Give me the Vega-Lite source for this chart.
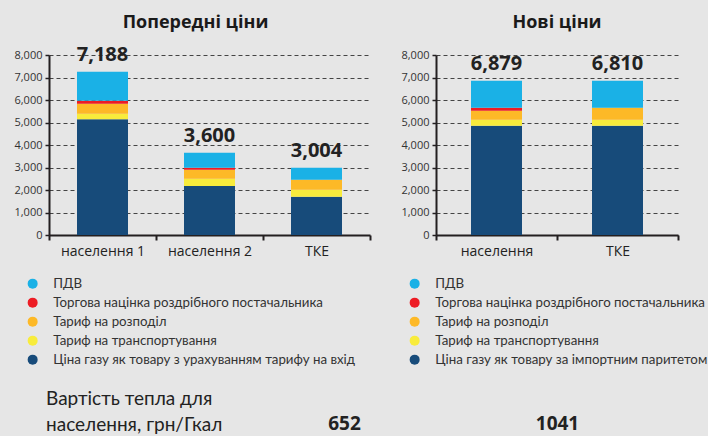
{
  "$schema": "https://vega.github.io/schema/vega-lite/v6.json",
  "background": "#e6e6e6",
  "padding": {"left": 13, "top": 13, "right": 0, "bottom": 0},
  "config": {
    "view": {"stroke": null},
    "font": "Open Sans",
    "title": {"fontSize": 18, "fontWeight": "bold", "color": "#1a1a1a", "offset": 12, "font": "Open Sans"},
    "axisX": {
      "title": null, "labelAngle": 0, "tickBand": "extent", "labelFontSize": 14, "labelColor": "#222",
      "domainColor": "#231f20", "domainWidth": 2, "tickColor": "#231f20", "tickSize": 5, "tickWidth": 2, "labelPadding": 4, "grid": false
    },
    "legend": {
      "orient": "none", "title": null, "symbolType": "circle", "symbolSize": 100, "symbolStrokeWidth": 0, "symbolOpacity": 1,
      "labelFont": "Lato", "labelFontSize": 13.3, "labelColor": "#333", "rowPadding": 5, "labelOffset": 14, "padding": 0, "labelLimit": 400
    }
  },
  "datasets": {
    "old": [
      {"cat": "населення 1", "comp": "Ціна газу як товару з урахуванням тарифу на вхід", "k": 1, "value": 5141},
      {"cat": "населення 1", "comp": "Тариф на транспортування", "k": 2, "value": 252},
      {"cat": "населення 1", "comp": "Тариф на розподіл", "k": 3, "value": 444},
      {"cat": "населення 1", "comp": "Торгова націнка роздрібного постачальника", "k": 4, "value": 133},
      {"cat": "населення 1", "comp": "ПДВ", "k": 5, "value": 1289},
      {"cat": "населення 2", "comp": "Ціна газу як товару з урахуванням тарифу на вхід", "k": 1, "value": 2180},
      {"cat": "населення 2", "comp": "Тариф на транспортування", "k": 2, "value": 322},
      {"cat": "населення 2", "comp": "Тариф на розподіл", "k": 3, "value": 400},
      {"cat": "населення 2", "comp": "Торгова націнка роздрібного постачальника", "k": 4, "value": 89},
      {"cat": "населення 2", "comp": "ПДВ", "k": 5, "value": 660},
      {"cat": "ТКЕ", "comp": "Ціна газу як товару з урахуванням тарифу на вхід", "k": 1, "value": 1704},
      {"cat": "ТКЕ", "comp": "Тариф на транспортування", "k": 2, "value": 311},
      {"cat": "ТКЕ", "comp": "Тариф на розподіл", "k": 3, "value": 444},
      {"cat": "ТКЕ", "comp": "ПДВ", "k": 5, "value": 534}
    ],
    "oldLabels": [
      {"cat": "населення 1", "label": "7,188"},
      {"cat": "населення 2", "label": "3,600"},
      {"cat": "ТКЕ", "label": "3,004"}
    ],
    "new": [
      {"cat": "населення", "comp": "Ціна газу як товару за імпортним паритетом", "k": 1, "value": 4859},
      {"cat": "населення", "comp": "Тариф на транспортування", "k": 2, "value": 267},
      {"cat": "населення", "comp": "Тариф на розподіл", "k": 3, "value": 400},
      {"cat": "населення", "comp": "Торгова націнка роздрібного постачальника", "k": 4, "value": 133},
      {"cat": "населення", "comp": "ПДВ", "k": 5, "value": 1200},
      {"cat": "ТКЕ", "comp": "Ціна газу як товару за імпортним паритетом", "k": 1, "value": 4859},
      {"cat": "ТКЕ", "comp": "Тариф на транспортування", "k": 2, "value": 267},
      {"cat": "ТКЕ", "comp": "Тариф на розподіл", "k": 3, "value": 533},
      {"cat": "ТКЕ", "comp": "ПДВ", "k": 5, "value": 1200}
    ],
    "newLabels": [
      {"cat": "населення", "label": "6,879"},
      {"cat": "ТКЕ", "label": "6,810"}
    ],
    "bottom": [
      {"col": "label", "text": "Вартість тепла для\nнаселення, грн/Гкал"},
      {"col": "old", "text": "652"},
      {"col": "new", "text": "1041"}
    ]
  },
  "vconcat": [
    {
      "hconcat": [
        {
          "title": {"text": "Попередні ціни", "dx": -14, "offset": 13},
          "width": 321,
          "height": 180,
          "layer": [
            {
              "data": {"name": "old"},
              "mark": {"type": "bar", "width": 51},
              "encoding": {
                "x": {"field": "cat", "type": "nominal", "sort": ["населення 1", "населення 2", "ТКЕ"], "scale": {"paddingInner": 0, "paddingOuter": 0}},
                "y": {
                  "field": "value", "type": "quantitative", "stack": "zero", "scale": {"domain": [0, 8000]},
                  "axis": {
                    "title": null, "grid": true, "gridDash": [4, 3], "gridColor": "#444", "gridWidth": 1.2,
                    "domainColor": "#231f20", "domainWidth": 2, "tickColor": "#231f20", "tickSize": 4, "tickWidth": 1.5,
                    "labelFontSize": 11, "labelColor": "#333", "labelPadding": 3, "labelOverlap": false,
                    "values": [0, 1000, 2000, 3000, 4000, 5000, 6000, 7000, 8000], "format": ",d"
                  }
                },
                "color": {
                  "field": "comp", "type": "nominal",
                  "scale": {
                    "domain": ["ПДВ", "Торгова націнка роздрібного постачальника", "Тариф на розподіл", "Тариф на транспортування", "Ціна газу як товару з урахуванням тарифу на вхід"],
                    "range": ["#1ab1e6", "#ed1c24", "#fdb927", "#f8ec3c", "#174b7a"]
                  },
                  "legend": {"legendX": -23, "legendY": 222}
                },
                "order": {"field": "k", "type": "quantitative"}
              }
            },
            {
              "data": {"name": "old"},
              "transform": [
                {"aggregate": [{"op": "sum", "field": "value", "as": "top"}], "groupby": ["cat"]},
                {"lookup": "cat", "from": {"data": {"name": "oldLabels"}, "key": "cat", "fields": ["label"]}}
              ],
              "mark": {"type": "text", "baseline": "bottom", "dy": -7, "fontSize": 20, "fontWeight": "bold", "color": "#222"},
              "encoding": {
                "x": {"field": "cat", "type": "nominal", "sort": ["населення 1", "населення 2", "ТКЕ"]},
                "y": {
                  "field": "top", "type": "quantitative",
                  "axis": {
                    "title": null, "grid": true, "gridDash": [4, 3], "gridColor": "#444", "gridWidth": 1.2,
                    "domainColor": "#231f20", "domainWidth": 2, "tickColor": "#231f20", "tickSize": 4, "tickWidth": 1.5,
                    "labelFontSize": 11, "labelColor": "#333", "labelPadding": 3, "labelOverlap": false,
                    "values": [0, 1000, 2000, 3000, 4000, 5000, 6000, 7000, 8000], "format": ",d"
                  }
                },
                "text": {"field": "label"}
              }
            }
          ]
        },
        {
          "title": {"text": "Нові ціни", "offset": 17},
          "width": 242,
          "height": 180,
          "layer": [
            {
              "data": {"name": "new"},
              "mark": {"type": "bar", "width": 51},
              "encoding": {
                "x": {"field": "cat", "type": "nominal", "sort": ["населення", "ТКЕ"], "scale": {"paddingInner": 0, "paddingOuter": 0}},
                "y": {
                  "field": "value", "type": "quantitative", "stack": "zero", "scale": {"domain": [0, 8000]},
                  "axis": {
                    "title": null, "grid": true, "gridDash": [4, 3], "gridColor": "#444", "gridWidth": 1.2,
                    "domainColor": "#231f20", "domainWidth": 2, "tickColor": "#231f20", "tickSize": 4, "tickWidth": 1.5,
                    "labelFontSize": 11, "labelColor": "#333", "labelPadding": 3, "labelOverlap": false,
                    "values": [0, 1000, 2000, 3000, 4000, 5000, 6000, 7000, 8000], "format": ",d"
                  }
                },
                "color": {
                  "field": "comp", "type": "nominal",
                  "scale": {
                    "domain": ["ПДВ", "Торгова націнка роздрібного постачальника", "Тариф на розподіл", "Тариф на транспортування", "Ціна газу як товару за імпортним паритетом"],
                    "range": ["#1ab1e6", "#ed1c24", "#fdb927", "#f8ec3c", "#174b7a"]
                  },
                  "legend": {"legendX": -28, "legendY": 222}
                },
                "order": {"field": "k", "type": "quantitative"}
              }
            },
            {
              "data": {"name": "new"},
              "transform": [
                {"aggregate": [{"op": "sum", "field": "value", "as": "top"}], "groupby": ["cat"]},
                {"lookup": "cat", "from": {"data": {"name": "newLabels"}, "key": "cat", "fields": ["label"]}}
              ],
              "mark": {"type": "text", "baseline": "bottom", "dy": -7, "fontSize": 20, "fontWeight": "bold", "color": "#222"},
              "encoding": {
                "x": {"field": "cat", "type": "nominal", "sort": ["населення", "ТКЕ"]},
                "y": {
                  "field": "top", "type": "quantitative",
                  "axis": {
                    "title": null, "grid": true, "gridDash": [4, 3], "gridColor": "#444", "gridWidth": 1.2,
                    "domainColor": "#231f20", "domainWidth": 2, "tickColor": "#231f20", "tickSize": 4, "tickWidth": 1.5,
                    "labelFontSize": 11, "labelColor": "#333", "labelPadding": 3, "labelOverlap": false,
                    "values": [0, 1000, 2000, 3000, 4000, 5000, 6000, 7000, 8000], "format": ",d"
                  }
                },
                "text": {"field": "label"}
              }
            }
          ]
        }
      ],
      "spacing": 29,
      "resolve": {"scale": {"color": "independent", "x": "independent", "y": "independent"}, "legend": {"color": "independent"}}
    },
    {
      "width": 639,
      "height": 30,
      "data": {"name": "bottom"},
      "layer": [
        {
          "transform": [{"filter": "datum.col == 'label'"}],
          "mark": {"type": "text", "align": "left", "baseline": "middle", "font": "Lato", "fontSize": 19, "lineBreak": "\n", "lineHeight": 26, "dx": -3, "dy": -25, "color": "#222"},
          "encoding": {
            "x": {"field": "col", "type": "nominal", "bandPosition": 0, "scale": {"type": "band", "domain": ["label", "old", "new"], "paddingInner": 0, "paddingOuter": 0}, "axis": null},
            "text": {"field": "text"}
          }
        },
        {
          "transform": [{"filter": "datum.col != 'label'"}],
          "mark": {"type": "text", "align": "center", "baseline": "middle", "fontSize": 19, "fontWeight": "bold", "color": "#222", "dx": -24},
          "encoding": {
            "x": {"field": "col", "type": "nominal", "scale": {"type": "band", "domain": ["label", "old", "new"], "paddingInner": 0, "paddingOuter": 0}, "axis": null},
            "text": {"field": "text"}
          }
        }
      ]
    }
  ],
  "spacing": 24
}
